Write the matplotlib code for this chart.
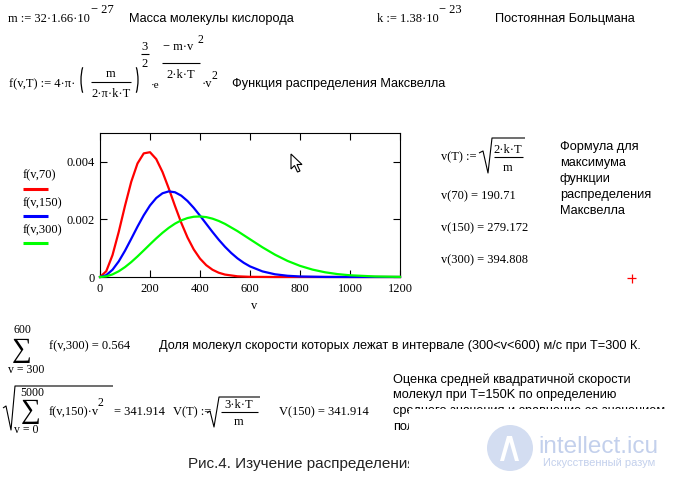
import matplotlib
matplotlib.use('Agg')
import matplotlib.pyplot as plt
from matplotlib.lines import Line2D
from matplotlib.patches import Arc, Rectangle, Polygon, Ellipse

# ---- data ----
v70 = [0, 25, 50, 75, 100, 125, 150, 175, 200, 225, 250, 275, 300, 325, 350, 375,
       400, 425, 450, 475, 500, 550, 600, 700, 800, 1200]
f70 = [0, 0.000200, 0.000759, 0.001568, 0.002472, 0.003308, 0.003943, 0.004293,
       0.004333, 0.004094, 0.003647, 0.003076, 0.002465, 0.001883, 0.001373,
       0.000957, 0.000639, 0.000410, 0.000252, 0.000148, 0.0000841, 0.0000240,
       0.0000059, 0.0000002, 0, 0]

v150 = [0, 25, 50, 75, 100, 125, 150, 175, 200, 225, 250, 275, 300, 325, 350, 375,
        400, 425, 450, 475, 500, 525, 550, 575, 600, 650, 700, 750, 800, 900,
        1000, 1100, 1200]
f150 = [0, 0.0000643, 0.000251, 0.000543, 0.000912, 0.001326, 0.001749, 0.002144,
        0.002484, 0.002743, 0.002907, 0.002973, 0.002942, 0.002825, 0.002639,
        0.002401, 0.002130, 0.001846, 0.001563, 0.001294, 0.001049, 0.000833,
        0.000647, 0.000493, 0.000368, 0.000194, 0.0000945, 0.0000429, 0.0000180,
        0.0000026, 0.0000003, 0, 0]

v300 = [0, 25, 50, 75, 100, 125, 150, 175, 200, 225, 250, 275, 300, 325, 350, 375,
        400, 425, 450, 475, 500, 550, 600, 650, 700, 750, 800, 850, 900, 950,
        1000, 1100, 1200]
f300 = [0, 0.0000228, 0.0000902, 0.000199, 0.000344, 0.000518, 0.000714, 0.000923,
        0.001135, 0.001342, 0.001535, 0.001707, 0.001853, 0.001967, 0.002047,
        0.002092, 0.002102, 0.002079, 0.002026, 0.001946, 0.001844, 0.001593,
        0.001311, 0.001030, 0.000775, 0.000559, 0.000387, 0.000257, 0.000164,
        0.000101, 0.0000600, 0.0000189, 0.0000051]

series_labels = ["f(v,70)", "f(v,150)", "f(v,300)"]
series_colors = ["#ff0000", "#0000ff", "#00ff00"]
x_ticks = [0, 200, 400, 600, 800, 1000, 1200]
y_ticks = [0, 0.002, 0.004]
y_tick_labels = ["0", "0.002", "0.004"]

W, H = 679, 484
SERIF = ['Liberation Serif', 'DejaVu Serif']
SANS = ['Liberation Sans', 'DejaVu Sans']
SS = 9.2  # size of the Russian comment text

fig = plt.figure(figsize=(W / 100, H / 100), dpi=100)
fig.patch.set_facecolor('white')


def T(x, y, s, fam=SERIF, size=9, ha='left', va='baseline', color='black', z=3):
    return fig.text(x / W, 1 - y / H, s, family=fam, fontsize=size, ha=ha, va=va,
                    color=color, zorder=z)


def L(pts, lw=0.8, color='black', z=3):
    xs = [p[0] / W for p in pts]
    ys = [1 - p[1] / H for p in pts]
    fig.add_artist(Line2D(xs, ys, transform=fig.transFigure, color=color, lw=lw,
                          zorder=z, solid_capstyle='butt'))


# ---- row 1 ----
T(8, 22, 'm := 32·1.66·10')
T(91, 13, '− 27')
T(129, 22, 'Масса молекулы кислорода', fam=SANS, size=SS)
T(377, 22, 'k := 1.38·10')
T(439, 13, '− 23')
T(495, 22, 'Постоянная Больцмана', fam=SANS, size=SS)

# ---- row 2: Maxwell formula ----
T(9, 87, 'f(v,T) := 4·π·')
fig.add_artist(Arc((91 / W, 1 - 80 / H), 20 / W, 46 / H, theta1=115, theta2=245,
                   transform=fig.transFigure, color='black', lw=0.9))
fig.add_artist(Arc((128 / W, 1 - 80 / H), 20 / W, 46 / H, theta1=-65, theta2=65,
                   transform=fig.transFigure, color='black', lw=0.9))
T(111, 77, 'm', ha='center')
L([(91, 82), (131, 82)])
T(111, 97, '2·π·k·T', ha='center')
T(145, 50, '3', ha='center')
L([(141, 54), (149, 54)])
T(145, 67, '2', ha='center')
T(151, 88, '·e', size=8)
T(163, 50, '− m·v')
T(197, 43, '2', size=8.5)
L([(162, 63), (200, 63)])
T(181, 78, '2·k·T', ha='center')
T(202, 87, '·v')
T(211, 79, '2', size=8.5)
T(232, 87, 'Функция распределения Максвелла', fam=SANS, size=SS)

# ---- chart ----
ax = fig.add_axes([100 / W, 1 - 277 / H, 300 / W, 144 / H])
ax.plot(v70, f70, color=series_colors[0], lw=1.6, clip_on=False, zorder=3)
ax.plot(v150, f150, color=series_colors[1], lw=1.6, clip_on=False, zorder=4)
ax.plot(v300, f300, color=series_colors[2], lw=1.6, clip_on=False, zorder=5)
ax.set_xlim(0, 1200)
ax.set_ylim(0, 0.005)
ax.set_xticks(x_ticks)
ax.set_xticklabels([str(t) for t in x_ticks])
ax.set_yticks(y_ticks)
ax.set_yticklabels(y_tick_labels)
ax.tick_params(direction='in', length=5, width=0.8, top=True, right=True,
               labelsize=9, pad=4)
for lab in ax.get_xticklabels() + ax.get_yticklabels():
    lab.set_family(SERIF)
for sp in ax.spines.values():
    sp.set_linewidth(0.8)
T(254, 309, 'v', ha='center')

# legend (Mathcad style)
leg_y = [(178, 189), (206, 216), (233, 243)]
for (ty, ly), lab, col in zip(leg_y, series_labels, series_colors):
    T(23, ty, lab)
    L([(23, ly), (48, ly)], lw=2.2, color=col)

# mouse cursor
cx, cy = 291, 154
cur = [(0, 0), (0, 15), (3.5, 11.5), (6.5, 18), (9, 17), (6, 10.5), (11, 10.5)]
fig.add_artist(Polygon([((cx + a) / W, 1 - (cy + b) / H) for a, b in cur], closed=True,
                       transform=fig.transFigure, facecolor='white', edgecolor='black',
                       lw=0.8, zorder=6))

# ---- right block ----
T(441, 160, 'v(T) :=')
L([(479, 153), (483, 151), (488, 173), (492, 138), (525, 138)], lw=0.8)
T(508, 153, '2·k·T', ha='center')
L([(494, 157), (523, 157)])
T(508, 171, 'm', ha='center')
T(441, 199, 'v(70) = 190.71')
T(441, 231, 'v(150) = 279.172')
T(441, 263, 'v(300) = 394.808')
for i, s in enumerate(['Формула для', 'максимума', 'функции', 'распределения', 'Максвелла']):
    T(560, 150 + 16 * i, s, fam=SANS, size=SS)
L([(627, 278), (636, 278)], lw=0.9, color='red')
L([(631.5, 273.5), (631.5, 282.5)], lw=0.9, color='red')

# ---- sum block ----
T(13, 333, '600', size=8.5)
T(22, 357, '∑', size=20, ha='center')
T(8, 373, 'v = 300', size=8.5)
T(49, 349, 'f(v,300) = 0.564')
T(159, 349, 'Доля молекул скорости которых лежат в интервале (300<v<600) м/с при T=300 К.',
  fam=SANS, size=SS)

# ---- rms block ----
L([(3, 408), (6, 406), (11, 430), (15, 386), (113, 386)], lw=0.8)
T(20, 396, '5000', size=8.5)
T(31, 418, '∑', size=20, ha='center')
T(14, 433, 'v = 0', size=8.5)
T(49, 415, 'f(v,150)·v')
T(97, 406, '2', size=8.5)
T(114, 415, '= 341.914')
T(173, 415, 'V(T) :=')
L([(207, 413), (210, 411), (214, 427), (219, 397), (260, 397)], lw=0.8)
T(239, 408, '3·k·T', ha='center')
L([(221, 412), (258, 412)])
T(239, 425, 'm', ha='center')
T(279, 415, 'V(150) = 341.914')

T(393, 383, 'Оценка средней квадратичной скорости', fam=SANS, size=SS)
T(393, 398, 'молекул при T=150K по определению', fam=SANS, size=SS)
T(393, 414, 'среднего значения и сравнение со значением', fam=SANS, size=SS)
T(393, 430, 'полученным', fam=SANS, size=SS)

# caption (its right part is hidden under the white patch)
cap = T(250, 468, 'Рис.4. Изучение распределения', fam=SANS, size=11, color='#222222')
fig.canvas.draw()
r = fig.canvas.get_renderer()
tmp = T(0, 0, 'Рис.4. Изучение распределени', fam=SANS, size=11)
wpx = tmp.get_window_extent(r).width
tmp.remove()
cap.set_x((407 - wpx) / W)

# white patch covering part of the page
fig.add_artist(Rectangle((409 / W, 0), 1 - 409 / W, 1 - 409 / H, transform=fig.transFigure,
                         facecolor='white', edgecolor='none', zorder=10))
# watermark
fig.add_artist(Ellipse((510 / W, 1 - 448 / H), 46 / W, 46 / H, transform=fig.transFigure,
                       facecolor='#d3ddf1', edgecolor='none', zorder=11))
fig.add_artist(Polygon([(p[0] / W, 1 - p[1] / H) for p in
                        [(500, 461), (507, 436), (512, 436), (519, 461), (515, 461),
                         (509.5, 442), (504, 461)]],
                       closed=True, transform=fig.transFigure, facecolor='white',
                       edgecolor='none', zorder=12))
fig.text(538 / W, 1 - 453 / H, 'intellect.icu', family=SANS, fontsize=17.5,
         color='#c3d0ec', ha='left', va='baseline', zorder=12)
fig.text(543 / W, 1 - 466 / H, 'Искусственный разум', family=SANS, fontsize=8,
         color='#c3d0ec', ha='left', va='baseline', zorder=12)

fig.savefig('out.png', dpi=100, facecolor='white')
